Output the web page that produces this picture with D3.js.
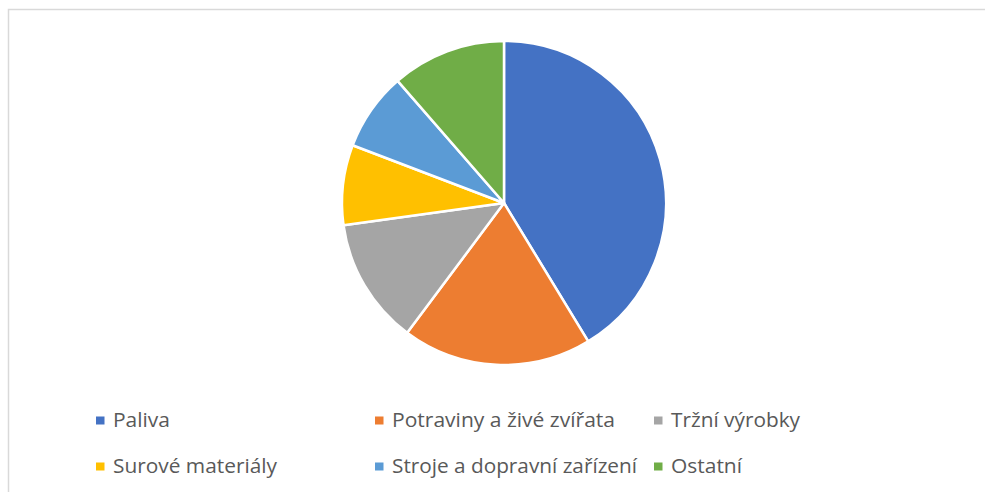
<!DOCTYPE html>
<html>
<head>
<meta charset="utf-8">
<script src="https://cdn.jsdelivr.net/npm/d3@7"></script>
<style>
  html, body { margin: 0; padding: 0; background: #fff; }
  svg { display: block; }
</style>
</head>
<body>
<svg id="chart"></svg>
<script>
// chart size
var width = 985,
    height = 492;

// categories and their shares (%)
var categories = ["Paliva", "Potraviny a živé zvířata", "Tržní výrobky",
                  "Surové materiály", "Stroje a dopravní zařízení", "Ostatní"];
var shares = [41.3, 18.9, 12.6, 8.0, 7.8, 11.4];
var colors = ["#4472C4", "#ED7D31", "#A5A5A5", "#FFC000", "#5B9BD5", "#70AD47"];

// legend text widths measured on the reference
var legendWidths = [57, 223, 129, 164, 245, 71];

var svg = d3.select("#chart")
  .attr("width", width)
  .attr("height", height);

// chart area border (only left and top are visible)
svg.append("rect")
  .attr("x", 8.5)
  .attr("y", 9.5)
  .attr("width", width + 10)
  .attr("height", height + 10)
  .style("fill", "#fff")
  .style("stroke", "#d9d9d9")
  .style("stroke-width", 1.5);

/*
 *  Pie
 */
var center = [504, 203],
    radius = 162;

var pie = d3.pie().sort(null).value(function(d) { return d; });
var arc = d3.arc().innerRadius(0).outerRadius(radius);

var g = svg.append("g")
  .attr("transform", "translate(" + center[0] + "," + center[1] + ")");

g.selectAll(".slice")
  .data(pie(shares))
  .enter().append("path")
    .classed("slice", true)
    .attr("d", arc)
    .style("fill", function(d, i) { return colors[i]; })
    .style("stroke", "#fff")
    .style("stroke-width", 2.5)
    .style("stroke-linejoin", "round");

/*
 *  Legend: 3 columns x 2 rows
 */
var colX = [96, 375, 654],
    rowY = [427, 473];

var item = svg.selectAll(".legend")
  .data(categories)
  .enter().append("g")
    .classed("legend", true)
    .attr("transform", function(d, i) {
      return "translate(" + colX[i % 3] + "," + rowY[Math.floor(i / 3)] + ")";
    });

item.append("rect")
  .attr("x", 0)
  .attr("y", -10.5)
  .attr("width", 8.5)
  .attr("height", 8)
  .style("fill", function(d, i) { return colors[i]; });

item.append("text")
  .attr("x", 17)
  .attr("y", 0)
  .attr("textLength", function(d, i) { return legendWidths[i]; })
  .attr("lengthAdjust", "spacingAndGlyphs")
  .style("font-family", "'Open Sans', 'Noto Sans', sans-serif")
  .style("font-size", "20px")
  .style("fill", "#595959")
  .text(function(d) { return d; });
</script>
</body>
</html>
